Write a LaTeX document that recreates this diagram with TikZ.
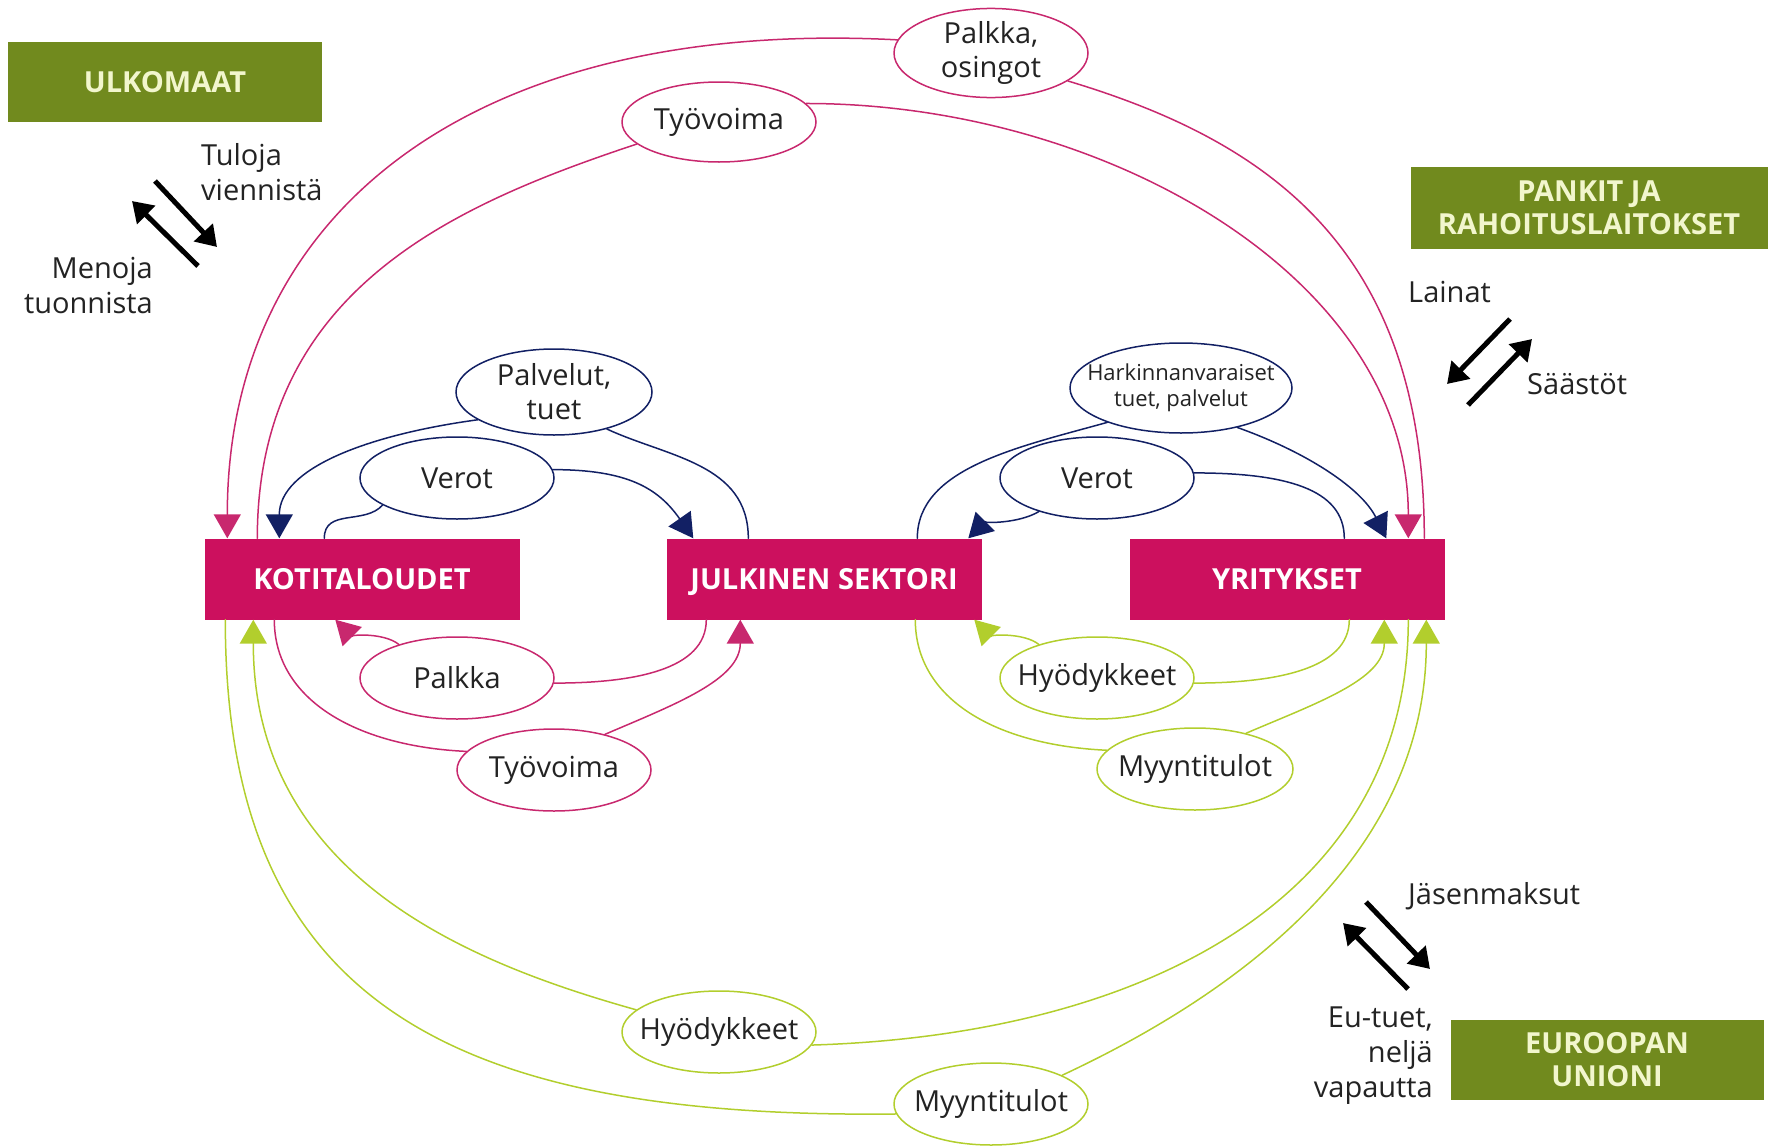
\documentclass[tikz,border=0pt]{standalone}
\usepackage{fontspec}
\setmainfont{Open Sans}
\usetikzlibrary{shapes.geometric,arrows.meta}

\begin{document}
\begin{tikzpicture}[x=1pt,y=-1pt,line cap=round,
	sector/.style={fill=custmag, text=white, minimum width=315pt, minimum height=81pt, inner sep=0, text height=21pt, text depth=0pt, font=\fontsize{29}{34}\selectfont\bfseries},
	outside/.style={fill=custolive, text=custcream, minimum height=80pt, inner sep=0, align=center, font=\fontsize{29}{33}\selectfont\bfseries},
	flow/.style={ellipse, fill=white, line width=1.5pt, inner xsep=-12pt, inner ysep=0, minimum width=194pt, minimum height=82pt, align=center, text=custtext, font=\fontsize{29}{34}\selectfont},
	lbl/.style={inner sep=0, text=custtext, font=\fontsize{29}{35}\selectfont},
	pinkline/.style={custpink, line width=1.5pt},
	navyline/.style={custnavy, line width=1.5pt},
	limeline/.style={custlime, line width=1.5pt},
	headin/.style={-{Triangle[length=24pt,width=27pt]}},
	bigarrow/.style={line width=5pt, line cap=butt, -{Triangle[length=20pt,width=25pt]}}
]
	\definecolor{custmag}{RGB}{204, 16, 94}
	\definecolor{custpink}{RGB}{200, 40, 110}
	\definecolor{custolive}{RGB}{113, 138, 30}
	\definecolor{custcream}{RGB}{242, 246, 205}
	\definecolor{custnavy}{RGB}{18, 32, 100}
	\definecolor{custlime}{RGB}{178, 206, 45}
	\definecolor{custtext}{RGB}{35, 35, 35}
	\useasboundingbox (0,0) rectangle (1773,1146);
	% sectors
	\node[sector] (koti) at (362,579) {KOTITALOUDET};
	\node[sector] (julk) at (824,579) {JULKINEN SEKTORI};
	\node[sector] (yrit) at (1287,579) {YRITYKSET};
	\node[outside, minimum width=314pt] (ulko) at (165,82) {ULKOMAAT};
	\node[outside, minimum width=357pt, minimum height=82pt] (pankit) at (1589,208) {PANKIT JA\\RAHOITUSLAITOKSET};
	\node[outside, minimum width=313pt] (eu) at (1607,1060) {EUROOPAN\\UNIONI};
	% flows
	\node[flow, draw=custpink, minimum height=86pt] (palkkaos) at (991,53) {Palkka,\\osingot};
	\node[flow, draw=custpink, minimum height=80pt] (tyotop) at (719,122) {Työvoima};
	\node[flow, draw=custnavy, minimum width=196pt, minimum height=86pt] (palvtuet) at (554,392) {Palvelut,\\tuet};
	\node[flow, draw=custnavy] (verotl) at (457,478) {Verot};
	\node[flow, draw=custnavy, minimum width=222pt, minimum height=90pt, inner xsep=-18pt, font=\fontsize{22}{26}\selectfont] (harkin) at (1181,388) {Harkinnanvaraiset\\tuet, palvelut};
	\node[flow, draw=custnavy] (verotr) at (1097,478) {Verot};
	\node[flow, draw=custpink] (palkka) at (457,678) {Palkka};
	\node[flow, draw=custpink] (tyobot) at (554,770) {Työvoima};
	\node[flow, draw=custlime] (hyodr) at (1097,678) {Hyödykkeet};
	\node[flow, draw=custlime, minimum width=196pt] (myyntir) at (1195,769) {Myyntitulot};
	\node[flow, draw=custlime] (hyodb) at (719,1032) {Hyödykkeet};
	\node[flow, draw=custlime] (myyntib) at (991,1104) {Myyntitulot};
	% outer loop
	\draw[pinkline, headin] (palkkaos.172) .. controls +(-420,-22) and +(0,-330) .. ([xshift=23pt]koti.north west);
	\draw[pinkline] ([xshift=295pt]yrit.north west) .. controls +(0,-290) and +(200,60) .. (palkkaos.-20);
	\draw[pinkline] ([xshift=53pt]koti.north west) .. controls +(0,-250) and +(-180,60) .. (tyotop.195);
	\draw[pinkline, headin] (tyotop.12) .. controls +(300,0) and +(0,-260) .. ([xshift=279pt]yrit.north west);
	\draw[limeline] ([xshift=21pt]koti.south west) .. controls +(0,380) and +(-450,5) .. (myyntib.186);
	\draw[limeline, headin] (myyntib.22) .. controls +(150,-70) and +(0,250) .. ([xshift=297pt]yrit.south west);
	\draw[limeline] ([xshift=279pt]yrit.south west) .. controls +(0,280) and +(330,-10) .. (hyodb.-8);
	\draw[limeline, headin] (hyodb.165) .. controls +(-160,-45) and +(0,260) .. ([xshift=49pt]koti.south west);
	% kotitaloudet - julkinen sektori
	\draw[navyline] ([xshift=82pt]julk.north west) .. controls +(0,-75) and +(60,28) .. (palvtuet.-35);
	\draw[navyline, headin] (palvtuet.200) .. controls +(-110,15) and +(0,-70) .. ([xshift=75pt]koti.north west);
	\draw[navyline] ([xshift=120pt]koti.north west) .. controls +(0,-30) and +(-18,20) .. (verotl.200);
	\draw[navyline, headin] (verotl.5) .. controls +(75,0) and +(-35,-50) .. ([xshift=27pt]julk.north west);
	\draw[pinkline] ([xshift=40pt]julk.south west) .. controls +(0,50) and +(80,0) .. (palkka.-3);
	\draw[pinkline, headin] (palkka.150) .. controls +(-15,-12) and +(15,15) .. ([xshift=131pt]koti.south west);
	\draw[pinkline] ([xshift=70pt]koti.south west) .. controls +(0,80) and +(-110,-5) .. (tyobot.168);
	\draw[pinkline, headin] (tyobot.35) .. controls +(70,-30) and +(0,60) .. ([xshift=74pt]julk.south west);
	% julkinen sektori - yritykset
	\draw[navyline] ([xshift=251pt]julk.north west) .. controls +(0,-70) and +(-90,25) .. (harkin.205);
	\draw[navyline, headin] (harkin.-35) .. controls +(70,25) and +(-25,-50) .. ([xshift=257pt]yrit.north west);
	\draw[navyline] ([xshift=215pt]yrit.north west) .. controls +(0,-50) and +(90,0) .. (verotr.3);
	\draw[navyline, headin] (verotr.210) .. controls +(-20,12) and +(15,-15) .. ([xshift=302pt]julk.north west);
	\draw[limeline] ([xshift=220pt]yrit.south west) .. controls +(0,50) and +(80,0) .. (hyodr.-3);
	\draw[limeline, headin] (hyodr.150) .. controls +(-15,-12) and +(15,15) .. ([xshift=308pt]julk.south west);
	\draw[limeline] ([xshift=249pt]julk.south west) .. controls +(0,80) and +(-110,-5) .. (myyntir.168);
	\draw[limeline, headin] (myyntir.35) .. controls +(70,-30) and +(0,60) .. ([xshift=255pt]yrit.south west);
	% ulkomaat
	\node[lbl, anchor=west, align=left] (tuloja) at (201,172) {Tuloja\\viennistä};
	\node[lbl, anchor=east, align=right] (menoja) at (153,285) {Menoja\\tuonnista};
	\coordinate (tul1) at (155,181);
	\coordinate (tul2) at (217,247);
	\coordinate (men1) at (198,266);
	\coordinate (men2) at (132,201);
	\draw[bigarrow] (tul1) -- (tul2);
	\draw[bigarrow] (men1) -- (men2);
	% pankit
	\node[lbl, anchor=west] (lainat) at (1408,292) {Lainat};
	\node[lbl, anchor=west] (saastot) at (1527,384) {Säästöt};
	\coordinate (lai1) at (1510,319);
	\coordinate (lai2) at (1447,384);
	\coordinate (saa1) at (1468,405);
	\coordinate (saa2) at (1532,339);
	\draw[bigarrow] (lai1) -- (lai2);
	\draw[bigarrow] (saa1) -- (saa2);
	% euroopan unioni
	\node[lbl, anchor=west] (jasen) at (1408,896) {Jäsenmaksut};
	\node[lbl, anchor=east, align=right] (eutuet) at (1433,1056) {Eu-tuet,\\neljä\\vapautta};
	\coordinate (jas1) at (1366,902);
	\coordinate (jas2) at (1430,969);
	\coordinate (tue1) at (1408,989);
	\coordinate (tue2) at (1343,923);
	\draw[bigarrow] (jas1) -- (jas2);
	\draw[bigarrow] (tue1) -- (tue2);
\end{tikzpicture}
\end{document}
